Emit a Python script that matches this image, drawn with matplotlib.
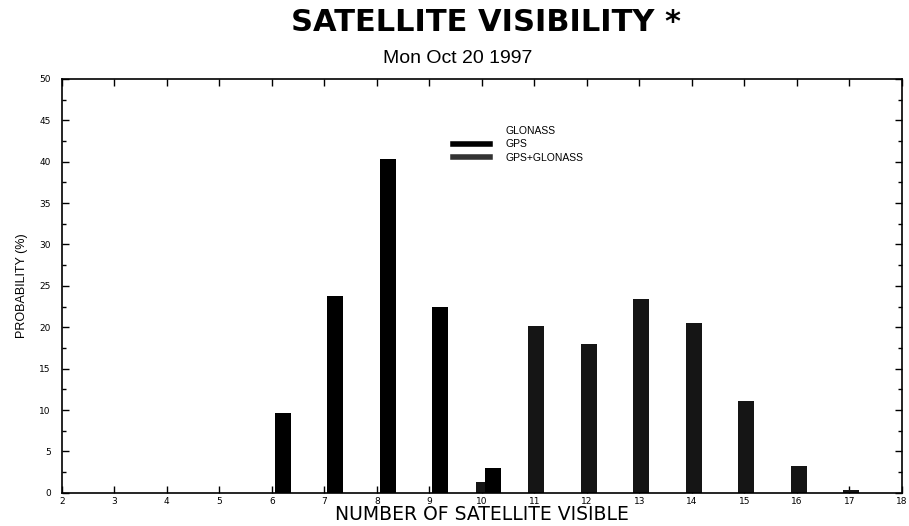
import matplotlib
matplotlib.use("Agg")
import matplotlib.pyplot as plt
from matplotlib.lines import Line2D
from matplotlib.ticker import MultipleLocator

# satellites visible -> probability (%)
gpsCounts = [6, 7, 8, 9, 10]
gpsProb = [9.7, 23.8, 40.3, 22.5, 3.0]
bothCounts = [10, 11, 12, 13, 14, 15, 16, 17]
bothProb = [1.3, 20.2, 18.0, 23.4, 20.5, 11.1, 3.3, 0.4]
legendLabels = ["GLONASS", "GPS", "GPS+GLONASS"]
yTicks = [0, 5, 10, 15, 20, 25, 30, 35, 40, 45, 50]
xTicks = list(range(2, 19))

fig = plt.figure(figsize=(9.09, 5.26), dpi=100)
ax = fig.add_axes([0.068, 0.063, 0.924, 0.787])

barWidth = 0.3
ax.bar([c + 0.04 for c in bothCounts], bothProb, width=barWidth, color="#151515", zorder=2)
ax.bar([c + 0.21 for c in gpsCounts], gpsProb, width=barWidth, color="black", zorder=3)

ax.set_xlim(2, 18)
ax.set_ylim(0, 50)
ax.set_xticks(xTicks)
ax.set_yticks(yTicks)
ax.yaxis.set_minor_locator(MultipleLocator(2.5))
ax.tick_params(axis="both", which="both", direction="in", top=True, right=True,
               labelsize=6.5, width=1)
ax.tick_params(axis="both", which="major", length=5)
ax.tick_params(axis="both", which="minor", length=3)
ax.tick_params(axis="x", pad=3)
ax.tick_params(axis="y", pad=8)
for s in ax.spines.values():
    s.set_linewidth(1.2)

ax.set_xlabel("NUMBER OF SATELLITE VISIBLE", fontsize=13.5, family="DejaVu Sans", labelpad=-1)
ax.set_ylabel("PROBABILITY (%)", fontsize=9, family="Liberation Sans", labelpad=8)

fig.text(0.535, 0.958, "SATELLITE VISIBILITY *", ha="center", va="center",
         fontsize=22, fontweight="bold", family="DejaVu Sans")
fig.text(0.504, 0.888, "Mon Oct 20 1997", ha="center", va="center",
         fontsize=14, family="Liberation Sans")

handles = [
    Line2D([0], [0], color="white", lw=4),
    Line2D([0], [0], color="black", lw=4),
    Line2D([0], [0], color="#333333", lw=4),
]
ax.legend(handles, legendLabels, loc="upper left", bbox_to_anchor=(0.455, 0.91),
          frameon=False, handlelength=3.5, labelspacing=0.35,
          handletextpad=1.5, prop={"family": "Liberation Sans", "size": 7.5})

fig.savefig("out.png", dpi=100)
